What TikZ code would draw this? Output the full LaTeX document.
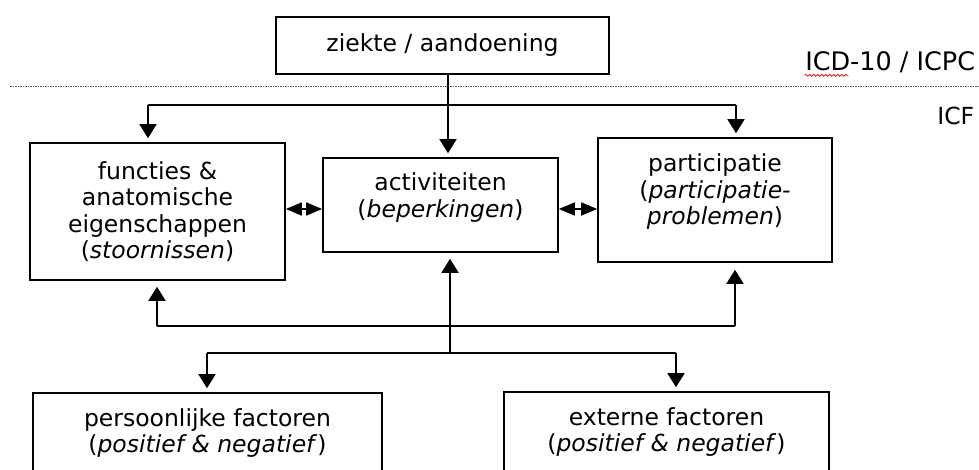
\documentclass[tikz,border=0pt]{standalone}
\usepackage{fontspec}
\setmainfont{DejaVu Sans}
\usetikzlibrary{arrows.meta,decorations.pathmorphing}

\tikzset{
  box/.style={draw, rectangle, align=center, inner sep=0pt},
  lbl/.style={anchor=east, inner sep=0pt},
  arr/.style={-{Triangle[width=17pt,length=14pt]}, shorten >=4pt},
  dbl/.style={{Triangle[width=13pt,length=16pt]}-{Triangle[width=13pt,length=16pt]}},
}

\begin{document}
\begin{tikzpicture}[x=1pt,y=-1pt,line width=1.6pt,font=\fontsize{23.5}{26.5}\selectfont]
  \useasboundingbox (0,0) rectangle (979,470);

  % ICD level
  \node[box, minimum width=333pt, minimum height=57pt] (ziekte) at (442.5,45.5) {ziekte / aandoening};
  \node[lbl, font=\fontsize{25.5}{28}\selectfont] (icd) at (976,62) {ICD-10 / ICPC};
  \node[lbl] (icf) at (975,116) {ICF};
  \draw[red, line width=0.7pt, decorate, decoration={snake,amplitude=1pt,segment length=4pt}]
    ([yshift=-5pt]icd.base west) -- ++(44,0);
  \coordinate (sepl) at (10,87);
  \coordinate (sepr) at (979,87);
  \draw[gray!70!black, line width=1pt, dash pattern=on 1.5pt off 1pt] (sepl) -- (sepr);

  % ICF components
  \node[box, minimum width=255pt, minimum height=137pt] (func) at (157.5,211.5)
    {functies \&\\anatomische\\eigenschappen\\(\textit{stoornissen})};
  \node[box, minimum width=235pt, minimum height=94pt, text depth=20pt] (act) at (440.5,205)
    {activiteiten\\(\textit{beperkingen})};
  \node[box, minimum width=234pt, minimum height=124pt, text depth=21pt] (part) at (715,200)
    {participatie\\(\textit{participatie-}\\\textit{problemen})};

  % context factors
  \node[box, minimum width=349pt, minimum height=80pt] (pers) at (207.5,433)
    {persoonlijke factoren\\(\textit{positief \& negatief})};
  \node[box, minimum width=325pt, minimum height=80pt] (ext) at (666.5,432)
    {externe factoren\\(\textit{positief \& negatief})};

  % top distribution
  \coordinate (zdown) at (448,74);
  \coordinate (tl) at (148,105);
  \coordinate (tr) at (736,105);
  \draw[arr] (zdown) -- (zdown |- act.north);
  \draw (tl) -- (tr);
  \draw[arr] (tl) -- (tl |- func.north);
  \draw[arr] (tr) -- (tr |- part.north);

  % between components
  \draw[dbl] (func.east |- 0,209) -- (act.west |- 0,209);
  \draw[dbl] (act.east |- 0,209) -- (part.west |- 0,209);

  % bottom feedback
  \coordinate (bl) at (157,326);
  \coordinate (br) at (735,326);
  \coordinate (bm) at (450,353);
  \coordinate (cl) at (207,353);
  \coordinate (cr) at (676,353);
  \draw (bl) -- (br);
  \draw[arr, shorten >=6pt] (bl) -- (bl |- func.south);
  \draw[arr, shorten >=7pt] (br) -- (br |- part.south);
  \draw[arr, shorten >=6pt] (bm) -- (bm |- act.south);
  \draw (cl) -- (cr);
  \draw[arr] (cl) -- (cl |- pers.north);
  \draw[arr] (cr) -- (cr |- ext.north);
\end{tikzpicture}
\end{document}
